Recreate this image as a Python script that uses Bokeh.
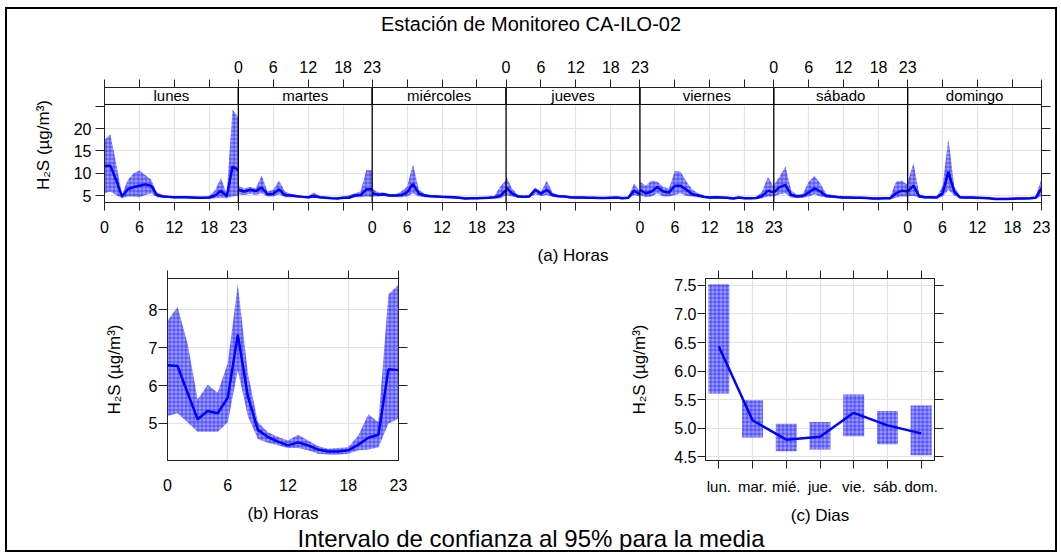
from bokeh.plotting import figure
from bokeh.models import (Range1d, LinearAxis, FixedTicker, Div, ColumnDataSource,
                          Span, Grid, PrintfTickFormatter)
from bokeh.layouts import column, row
from bokeh.embed import file_html
from bokeh.resources import INLINE
from bokeh.core.properties import value

FONT = "Liberation Sans"
BLUE = "#0000ff"

TITLE = "Estación de Monitoreo CA-ILO-02"
CAPTION = "Intervalo de confianza al 95% para la media"
YLABEL = "H\u2082S (\u00b5g/m\u00b3)"

days = ["lunes", "martes", "miércoles", "jueves", "viernes", "sábado", "domingo"]
day_abbr = ["lun.", "mar.", "mié.", "jue.", "vie.", "sáb.", "dom."]
hours = list(range(24))
hour_ticks = [0, 6, 12, 18, 23]

# ---- (a) hour x weekday ----
lunes_mean = [11.6, 11.7, 8.5, 4.8, 6.4, 6.9, 7.2, 7.5, 7.2, 5.1, 4.8, 4.7, 4.6, 4.6, 4.6, 4.55, 4.5, 4.5, 4.55, 5.0, 6.1, 4.8, 11.5, 10.7]
lunes_hi = [17.5, 18.7, 12.2, 5.2, 8.5, 10.0, 10.6, 9.6, 8.6, 5.7, 5.1, 4.95, 4.85, 4.85, 4.85, 4.8, 4.75, 4.75, 4.9, 6.2, 8.9, 5.4, 24.2, 22.5]
lunes_lo = [5.5, 5.9, 5.1, 4.4, 4.8, 4.8, 4.6, 5.1, 5.5, 4.6, 4.5, 4.45, 4.4, 4.4, 4.4, 4.35, 4.3, 4.3, 4.3, 4.4, 4.5, 4.4, 4.8, 5.0]

martes_mean = [6.3, 5.9, 6.3, 6.0, 6.8, 5.3, 5.4, 6.4, 5.1, 5.0, 4.85, 4.7, 4.6, 4.85, 4.6, 4.5, 4.4, 4.35, 4.5, 4.5, 5.0, 5.1, 6.4, 6.4]
martes_hi = [7.2, 6.6, 6.9, 6.6, 9.5, 5.9, 6.3, 8.3, 5.9, 5.4, 5.1, 4.95, 4.85, 5.7, 4.85, 4.75, 4.65, 4.6, 4.8, 5.0, 5.5, 5.9, 10.7, 10.6]
martes_lo = [5.3, 5.1, 5.4, 5.1, 5.5, 4.8, 4.8, 5.3, 4.6, 4.6, 4.6, 4.45, 4.4, 4.5, 4.4, 4.3, 4.2, 4.15, 4.25, 4.3, 4.6, 4.6, 4.8, 4.6]

miercoles_mean = [5.5, 5.2, 5.3, 5.0, 5.0, 5.1, 5.7, 7.6, 5.5, 5.0, 4.85, 4.8, 4.7, 4.65, 4.6, 4.5, 4.35, 4.4, 4.4, 4.45, 4.5, 4.6, 4.9, 6.2]
miercoles_hi = [6.6, 5.7, 5.7, 5.3, 5.3, 5.9, 7.0, 12.0, 6.3, 5.4, 5.1, 5.0, 4.95, 4.9, 4.85, 4.75, 4.6, 4.65, 4.65, 4.7, 4.8, 4.9, 7.0, 8.5]
miercoles_lo = [4.8, 4.8, 4.9, 4.7, 4.7, 4.6, 4.8, 5.5, 4.8, 4.6, 4.6, 4.55, 4.45, 4.4, 4.35, 4.25, 4.1, 4.15, 4.15, 4.2, 4.25, 4.35, 4.4, 5.0]

jueves_mean = [6.9, 5.5, 4.8, 4.7, 4.8, 6.3, 5.4, 6.3, 5.1, 4.85, 4.8, 4.6, 4.55, 4.55, 4.5, 4.5, 4.45, 4.45, 4.5, 4.55, 4.4, 4.5, 6.1, 5.3]
jueves_hi = [9.4, 6.6, 5.2, 5.0, 5.1, 6.8, 5.9, 8.3, 5.6, 5.1, 5.0, 4.85, 4.8, 4.8, 4.75, 4.75, 4.7, 4.7, 4.75, 4.8, 4.65, 4.75, 7.7, 5.9]
jueves_lo = [5.1, 4.8, 4.5, 4.45, 4.5, 5.3, 4.9, 5.1, 4.7, 4.6, 4.55, 4.35, 4.3, 4.3, 4.25, 4.25, 4.2, 4.2, 4.25, 4.3, 4.15, 4.25, 5.1, 4.8]

viernes_mean = [6.3, 5.5, 5.9, 6.9, 5.9, 5.7, 7.2, 7.2, 6.3, 5.3, 5.0, 4.7, 4.55, 4.6, 4.55, 4.5, 4.35, 4.55, 4.4, 4.4, 4.45, 4.9, 6.1, 5.7]
viernes_hi = [8.1, 7.2, 8.3, 8.1, 6.9, 6.6, 10.5, 10.3, 8.1, 6.3, 5.5, 5.0, 4.8, 4.85, 4.8, 4.75, 4.6, 4.8, 4.65, 4.65, 4.7, 5.9, 9.2, 6.9]
viernes_lo = [5.1, 4.6, 4.8, 5.5, 4.8, 4.8, 5.1, 5.5, 4.9, 4.8, 4.6, 4.45, 4.3, 4.35, 4.3, 4.25, 4.1, 4.3, 4.15, 4.15, 4.2, 4.4, 4.8, 4.8]

sabado_mean = [5.7, 6.9, 7.4, 5.1, 4.8, 4.9, 5.7, 6.6, 5.9, 4.9, 4.8, 4.65, 4.55, 4.55, 4.5, 4.5, 4.45, 4.35, 4.35, 4.4, 4.4, 5.5, 6.1, 5.9]
sabado_hi = [7.4, 9.2, 11.5, 6.1, 5.2, 5.4, 8.1, 9.4, 7.7, 5.4, 5.1, 4.9, 4.8, 4.8, 4.75, 4.75, 4.7, 4.6, 4.6, 4.65, 4.65, 8.1, 8.3, 7.4]
sabado_lo = [4.8, 5.3, 5.5, 4.5, 4.5, 4.5, 4.8, 5.3, 4.8, 4.55, 4.5, 4.4, 4.3, 4.3, 4.25, 4.25, 4.2, 4.1, 4.1, 4.15, 4.15, 4.5, 4.8, 4.8]

domingo_mean = [5.9, 7.2, 4.8, 4.6, 4.6, 4.55, 5.5, 10.3, 5.9, 4.6, 4.55, 4.55, 4.5, 4.45, 4.4, 4.25, 4.25, 4.25, 4.3, 4.35, 4.35, 4.4, 4.5, 6.6]
domingo_hi = [8.1, 12.2, 5.3, 4.9, 4.9, 4.85, 7.0, 17.8, 7.0, 4.9, 4.8, 4.8, 4.75, 4.7, 4.65, 4.5, 4.5, 4.5, 4.55, 4.6, 4.6, 4.65, 4.75, 8.9]
domingo_lo = [4.9, 4.9, 4.5, 4.35, 4.35, 4.3, 4.8, 6.3, 5.0, 4.35, 4.3, 4.3, 4.25, 4.2, 4.15, 4.0, 4.0, 4.0, 4.05, 4.1, 4.1, 4.15, 4.25, 4.9]

week_mean = [lunes_mean, martes_mean, miercoles_mean, jueves_mean, viernes_mean, sabado_mean, domingo_mean]
week_hi = [lunes_hi, martes_hi, miercoles_hi, jueves_hi, viernes_hi, sabado_hi, domingo_hi]
week_lo = [lunes_lo, martes_lo, miercoles_lo, jueves_lo, viernes_lo, sabado_lo, domingo_lo]

# ---- (b) hour ----
hour_mean = [6.54, 6.52, 5.81, 5.11, 5.33, 5.27, 5.68, 7.35, 5.72, 4.83, 4.64, 4.52, 4.42, 4.50, 4.42, 4.31, 4.26, 4.26, 4.29, 4.44, 4.62, 4.70, 6.43, 6.41]
hour_hi = [7.71, 8.08, 7.11, 5.63, 6.02, 5.81, 6.59, 8.67, 6.33, 5.03, 4.77, 4.64, 4.55, 4.70, 4.55, 4.40, 4.33, 4.35, 4.37, 4.68, 5.24, 5.03, 8.41, 8.67]
hour_lo = [5.20, 5.27, 5.03, 4.78, 4.78, 4.78, 5.03, 6.41, 5.20, 4.59, 4.49, 4.42, 4.35, 4.35, 4.29, 4.20, 4.18, 4.18, 4.20, 4.29, 4.31, 4.37, 5.00, 5.13]

# ---- (c) weekday ----
day_mean = [6.43, 5.14, 4.80, 4.85, 5.27, 5.05, 4.91]
day_hi = [7.52, 5.49, 5.08, 5.11, 5.59, 5.30, 5.40]
day_lo = [5.61, 4.84, 4.60, 4.63, 4.86, 4.72, 4.53]

BAND = dict(fill_color=BLUE, fill_alpha=0.4, hatch_pattern="+", hatch_color=BLUE,
            hatch_alpha=0.6, hatch_scale=4.0, hatch_weight=0.8)
FRAME = "#222222"
GRID = "#e2e2e2"
TICK_FS = "16px"


def style_axis(ax, tick_out, standoff, label_size=TICK_FS):
    ax.major_tick_in = 0
    ax.major_tick_out = tick_out
    ax.minor_tick_in = 0
    ax.minor_tick_out = 0
    ax.major_label_standoff = standoff
    ax.major_label_text_font = FONT
    ax.major_label_text_font_size = label_size
    ax.major_label_text_color = "black"
    ax.axis_label_text_font = FONT
    ax.axis_label_text_font_size = "17px"
    ax.axis_label_text_font_style = "normal"
    ax.axis_label_text_color = "black"
    ax.axis_line_color = FRAME
    ax.major_tick_line_color = FRAME


def blank_axis(ticks, tick_out):
    ax = LinearAxis(ticker=FixedTicker(ticks=ticks),
                    major_label_overrides={t: "" for t in ticks})
    style_axis(ax, tick_out, 0, "1px")
    return ax


def add_grids(p, xt, yt):
    for g in p.grid:
        g.visible = False
    p.add_layout(Grid(dimension=0, ticker=FixedTicker(ticks=xt), grid_line_color=GRID, grid_line_width=1.2))
    p.add_layout(Grid(dimension=1, ticker=FixedTicker(ticks=yt), grid_line_color=GRID, grid_line_width=1.2))


# ================= (a) top panel =================
NH = 23  # hour span of one day panel
top = figure(width=1048, height=227, x_range=Range1d(0, 7 * NH), y_range=Range1d(3.44, 29.2),
             output_backend="svg", toolbar_location=None,
             x_axis_location=None, y_axis_location=None,
             min_border_left=97, min_border_right=14, min_border_top=47, min_border_bottom=64,
             outline_line_color=FRAME, background_fill_color="white")

xt = sorted({NH * d + h for d in range(7) for h in hour_ticks})
grid_x = [NH * d + h for d in range(7) for h in (6, 12, 18)]
add_grids(top, grid_x, [5, 10, 15, 20])

bottom_over = {t: "" for t in xt}
top_over = {t: "" for t in xt}
for d in range(7):
    for h in hour_ticks:
        if d % 2 == 0:
            bottom_over[NH * d + h] = str(h)
        else:
            top_over[NH * d + h] = str(h)

ax_b = LinearAxis(ticker=FixedTicker(ticks=xt), major_label_overrides=bottom_over, axis_label="(a) Horas")
style_axis(ax_b, 8, 10)
ax_b.axis_label_standoff = 10
top.add_layout(ax_b, "below")

ax_t = LinearAxis(ticker=FixedTicker(ticks=xt), major_label_overrides=top_over)
style_axis(ax_t, 8, 7)
top.add_layout(ax_t, "above")

ax_l = LinearAxis(ticker=FixedTicker(ticks=[5, 10, 15, 20, 25]), major_label_overrides={25: ""},
                  axis_label=YLABEL)
style_axis(ax_l, 9, 4)
ax_l.axis_label_standoff = 18
top.add_layout(ax_l, "left")
top.add_layout(blank_axis([5, 10, 15, 20, 25], 9), "right")

for d in range(7):
    src = ColumnDataSource(dict(x=[NH * d + h for h in hours], m=week_mean[d],
                                lo=week_lo[d], hi=week_hi[d]))
    top.varea(x="x", y1="lo", y2="hi", source=src, **BAND)
    top.line(x="x", y="m", source=src, line_color=BLUE, line_width=2.5)

strip = ColumnDataSource(dict(left=[NH * d for d in range(7)], right=[NH * (d + 1) for d in range(7)],
                              xc=[NH * d + NH / 2 for d in range(7)], name=days))
top.quad(left="left", right="right", bottom=25.4, top=29.2, source=strip,
         fill_color="white", line_color="black", line_width=1)
top.text(x="xc", y=27.3, text="name", source=strip, text_align="center", text_baseline="middle",
         text_font=value(FONT), text_font_size="15px", text_color="black")
for d in range(1, 7):
    top.add_layout(Span(location=NH * d, dimension="height", line_color="black", line_width=1.3))

# ================= (b) hour panel =================
bl = figure(width=553, height=260, x_range=Range1d(0, 23), y_range=Range1d(4.02, 8.833),
            output_backend="svg", toolbar_location=None,
            x_axis_location=None, y_axis_location=None,
            min_border_left=160, min_border_right=162, min_border_top=10, min_border_bottom=65,
            outline_line_color=FRAME, background_fill_color="white")
add_grids(bl, hour_ticks, [5, 6, 7, 8])
bx = LinearAxis(ticker=FixedTicker(ticks=hour_ticks), axis_label="(b) Horas")
style_axis(bx, 0, 18)
bx.axis_label_standoff = 10
bl.add_layout(bx, "below")
bl.add_layout(blank_axis(hour_ticks, 8), "above")
by = LinearAxis(ticker=FixedTicker(ticks=[5, 6, 7, 8]), axis_label=YLABEL)
style_axis(by, 9, 1)
by.axis_label_standoff = 22
bl.add_layout(by, "left")
bl.add_layout(blank_axis([5, 6, 7, 8], 9), "right")
hsrc = ColumnDataSource(dict(x=hours, m=hour_mean, lo=hour_lo, hi=hour_hi))
bl.varea(x="x", y1="lo", y2="hi", source=hsrc, **BAND)
bl.line(x="x", y="m", source=hsrc, line_color=BLUE, line_width=2.5)

# ================= (c) weekday panel =================
idx = list(range(7))
br = figure(width=495, height=260, x_range=Range1d(-0.395, 6.395), y_range=Range1d(4.436, 7.62),
            output_backend="svg", toolbar_location=None,
            x_axis_location=None, y_axis_location=None,
            min_border_left=145, min_border_right=121, min_border_top=11, min_border_bottom=64,
            outline_line_color=FRAME, background_fill_color="white")
yt_c = [4.5, 5.0, 5.5, 6.0, 6.5, 7.0, 7.5]
add_grids(br, idx, yt_c)
cx = LinearAxis(ticker=FixedTicker(ticks=idx), major_label_overrides=dict(zip(idx, day_abbr)),
                axis_label="(c) Dias")
style_axis(cx, 8, 9, "15px")
cx.axis_label_standoff = 8
br.add_layout(cx, "below")
br.add_layout(blank_axis(idx, 8), "above")
cy = LinearAxis(ticker=FixedTicker(ticks=yt_c), formatter=PrintfTickFormatter(format="%.1f"),
                axis_label=YLABEL)
style_axis(cy, 8, 1)
cy.axis_label_standoff = 22
br.add_layout(cy, "left")
br.add_layout(blank_axis(yt_c, 9), "right")
dsrc = ColumnDataSource(dict(x=idx, m=day_mean, lo=day_lo, hi=day_hi))
br.vbar(x="x", width=0.62, bottom="lo", top="hi", source=dsrc, line_color=None, **BAND)
br.line(x="x", y="m", source=dsrc, line_color=BLUE, line_width=2.5)

# ================= texts & layout =================
def text_div(text, size, h):
    html = ('<div style="font-family: \'Liberation Sans\', Arial, sans-serif; font-size: %dpx; '
            'line-height: %dpx; height: %dpx; text-align: center; color: black; width: 1048px; '
            'margin: 0; padding: 0;">%s</div>' % (size, h, h, text))
    return Div(text=html, width=1048, height=h, margin=0)


title_div = text_div(TITLE, 20, 31)
cap_div = text_div(CAPTION, 24, 23)

root = column(title_div, top, row(bl, br, spacing=0), cap_div, spacing=0,
              styles={"position": "absolute", "left": "5px", "top": "7px",
                      "border": "2px solid black", "background-color": "white"})

open("out.html", "w").write(file_html(root, INLINE, title="timeVariation"))
